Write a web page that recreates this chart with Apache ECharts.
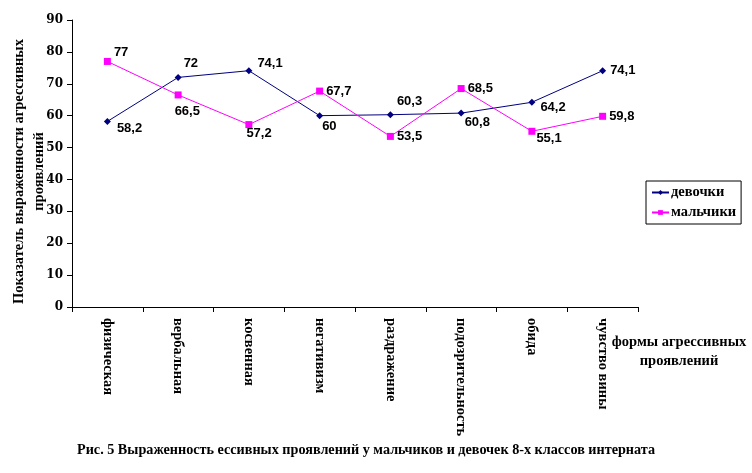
<!DOCTYPE html>
<html>
<head>
<meta charset="utf-8">
<script src="https://cdn.jsdelivr.net/npm/echarts@6/dist/echarts.min.js"></script>
<style>
  html, body { margin: 0; padding: 0; background: #fff; }
  #chart { width: 752px; height: 473px; }
</style>
</head>
<body>
<div id="chart"></div>
<script>
// формы агрессии
const categories = ['физическая', 'вербальная', 'косвенная', 'негативизм', 'раздражение', 'подозрительность', 'обида', 'чувство вины'];
const girls = [58.2, 72, 74.1, 60, 60.3, 60.8, 64.2, 74.1];
const boys = [77, 66.5, 57.2, 67.7, 53.5, 68.5, 55.1, 59.8];
const yTicks = [0, 10, 20, 30, 40, 50, 60, 70, 80, 90];

// где стоят подписи значений (сдвиг от точки)
const girlsLabelShift = [[6, 7], [2, -14], [5, -7], [-1, 11], [3, -13], [0, 9], [5, 5], [4, 0]];
const boysLabelShift = [[3, -9], [-7, 16], [-6, 9], [3, 0], [3, 0], [3, 0], [1, 7], [3, 0]];

const serif = '"Liberation Serif", "Times New Roman", serif';
const sans = '"Liberation Sans", Arial, sans-serif';
const txt = 14.5;

const chart = echarts.init(document.getElementById('chart'));

const withLabels = (values, shifts) => values.map((v, i) => ({
  value: v,
  label: { offset: shifts[i] }
}));

const labelStyle = {
  show: true,
  position: 'right',
  distance: 0,
  fontFamily: sans,
  fontWeight: 'bold',
  fontSize: 13,
  color: '#000',
  formatter: p => String(p.value).replace('.', ',')
};

chart.setOption({
  backgroundColor: '#fff',
  animation: false,
  grid: { left: 72, right: 114, top: 20, bottom: 166, containLabel: false, outerBoundsMode: 'none' },
  legend: {
    orient: 'vertical',
    left: 646,
    top: 181,
    padding: [4, 5, 4, 5],
    itemGap: 5,
    itemWidth: 17,
    itemHeight: 6,
    borderColor: '#000',
    borderWidth: 1,
    textStyle: { fontFamily: serif, fontWeight: 'bold', fontSize: txt, color: '#000', padding: [0, 0, 0, -3] },
    data: ['девочки', 'мальчики']
  },
  xAxis: {
    type: 'category',
    data: categories,
    boundaryGap: true,
    axisLine: { lineStyle: { color: '#000', width: 1 } },
    axisTick: { show: true, length: 5, lineStyle: { color: '#000' } },
    axisLabel: {
      rotate: -90,
      margin: 11,
      interval: 0,
      fontFamily: serif,
      fontWeight: 'bold',
      fontSize: txt,
      color: '#000'
    }
  },
  yAxis: {
    type: 'value',
    min: yTicks[0],
    max: yTicks[yTicks.length - 1],
    interval: 10,
    name: 'Показатель выраженности агрессивных\nпроявлений',
    nameLocation: 'middle',
    nameGap: 23,
    nameMoveOverlap: false,
    nameTextStyle: {
      fontFamily: serif, fontWeight: 'bold', fontSize: txt, color: '#000',
      lineHeight: 20, padding: [0, 16, 0, 0]
    },
    axisLine: { show: true, lineStyle: { color: '#000', width: 1 } },
    axisTick: { show: true, length: 5, lineStyle: { color: '#000' } },
    splitLine: { show: false },
    axisLabel: { margin: 9, fontFamily: '"DejaVu Serif", serif', fontWeight: 'bold', fontSize: 12, color: '#000' }
  },
  graphic: [
    {
      type: 'text',
      x: 679,
      y: 333,
      style: {
        text: 'формы агрессивных\nпроявлений',
        align: 'center',
        verticalAlign: 'top',
        font: 'bold ' + txt + 'px ' + serif,
        fill: '#000',
        lineHeight: 19
      }
    },
    {
      type: 'text',
      x: 366,
      y: 450,
      style: {
        text: 'Рис. 5 Выраженность ессивных проявлений у мальчиков и девочек 8-х классов интерната',
        align: 'center',
        verticalAlign: 'middle',
        font: 'bold 14.2px ' + serif,
        fill: '#000'
      }
    }
  ],
  series: [
    {
      name: 'девочки',
      type: 'line',
      data: withLabels(girls, girlsLabelShift),
      symbol: 'diamond',
      symbolSize: 7,
      color: '#000080',
      lineStyle: { color: '#000080', width: 1 },
      itemStyle: { color: '#000080' },
      label: labelStyle
    },
    {
      name: 'мальчики',
      type: 'line',
      data: withLabels(boys, boysLabelShift),
      symbol: 'rect',
      symbolSize: 7,
      color: '#ff00ff',
      lineStyle: { color: '#ff00ff', width: 1 },
      itemStyle: { color: '#ff00ff' },
      label: labelStyle
    }
  ]
});
</script>
</body>
</html>
